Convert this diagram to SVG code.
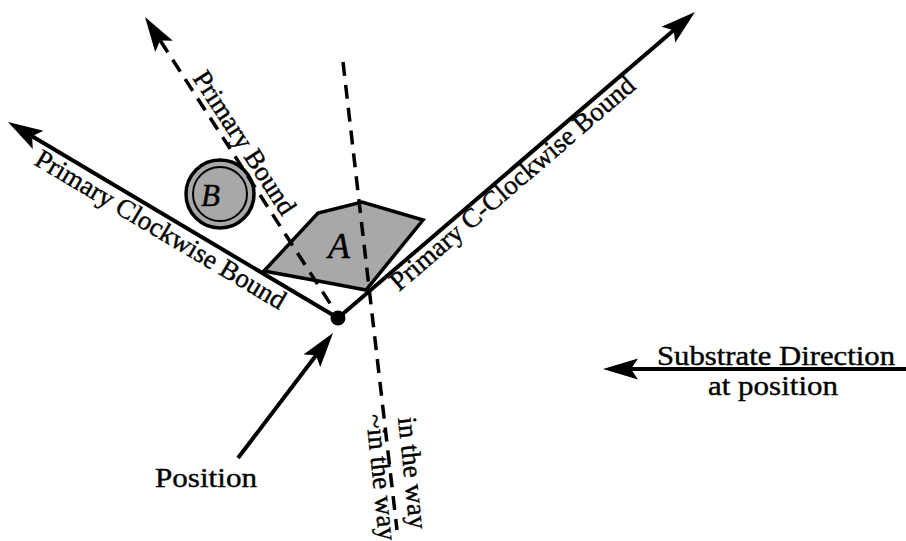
<svg xmlns="http://www.w3.org/2000/svg" width="906" height="541" viewBox="0 0 906 541">
<style>
.t{font-family:"Liberation Serif","Times New Roman",serif;fill:#000;stroke:#000;stroke-width:0.4}
.solid{stroke:#000;stroke-width:4;fill:none}
.dash{stroke:#000;stroke-width:3.5;fill:none;stroke-dasharray:14 9}
.shape{stroke:#000;stroke-width:3.5;fill:#a8a8a8}
</style>
<defs>
<marker id="arr" markerUnits="userSpaceOnUse" markerWidth="60" markerHeight="30" viewBox="-10 -15 60 30" refX="0" refY="0" orient="auto-start-reverse"><path d="M-7,-10.5 L28,0 L-7,10.5 L0,0 Z" fill="#000"/></marker>
</defs>
<rect width="906" height="541" fill="#fff"/>
<g id="node-A">
<polygon class="shape" points="264,271 318,213 362,202 423,220 366,290 313,280"/>
<text class="t" x="328" y="258" font-size="36" font-style="italic">A</text>
</g>
<g id="node-B">
<circle class="shape" cx="220" cy="194" r="34"/>
<circle cx="220" cy="194" r="27" fill="none" stroke="#000" stroke-width="2"/>
<text class="t" x="201" y="206" font-size="31" font-style="italic">B</text>
</g>
<g id="connectors">
<line class="solid" x1="338" y1="318" x2="32.1" y2="136.3" marker-end="url(#arr)"/>
<line class="solid" x1="338" y1="318" x2="673.7" y2="30.2" marker-end="url(#arr)"/>
<path class="dash" d="M160.2,40.5 L333,308" marker-start="url(#arr)"/>
<path class="dash" d="M343,62 L397,530"/>
<line class="solid" x1="906" y1="369" x2="631" y2="369" marker-end="url(#arr)"/>
<line class="solid" x1="238" y1="458" x2="316.1" y2="355.3" marker-end="url(#arr)"/>
</g>
<g id="node-position">
<circle cx="338" cy="318" r="7.5" fill="#000"/>
</g>
<g id="labels">
<text class="t" font-size="27" transform="translate(33,164) rotate(30.7)">Primary Clockwise Bound</text>
<text class="t" font-size="27" transform="translate(399,292) rotate(-40.6)">Primary C-Clockwise Bound</text>
<text class="t" font-size="27" transform="translate(192,78) rotate(57)">Primary Bound</text>
<text class="t" font-size="27" transform="translate(398,418) rotate(84)">in the way</text>
<text class="t" font-size="27" transform="translate(366,415) rotate(84)">~in the way</text>
<text class="t" font-size="28" x="155" y="487" textLength="102" lengthAdjust="spacingAndGlyphs">Position</text>
<text class="t" font-size="28" x="657" y="365" textLength="238" lengthAdjust="spacingAndGlyphs">Substrate Direction</text>
<text class="t" font-size="28" x="708" y="395" textLength="130" lengthAdjust="spacingAndGlyphs">at position</text>
</g>
</svg>
